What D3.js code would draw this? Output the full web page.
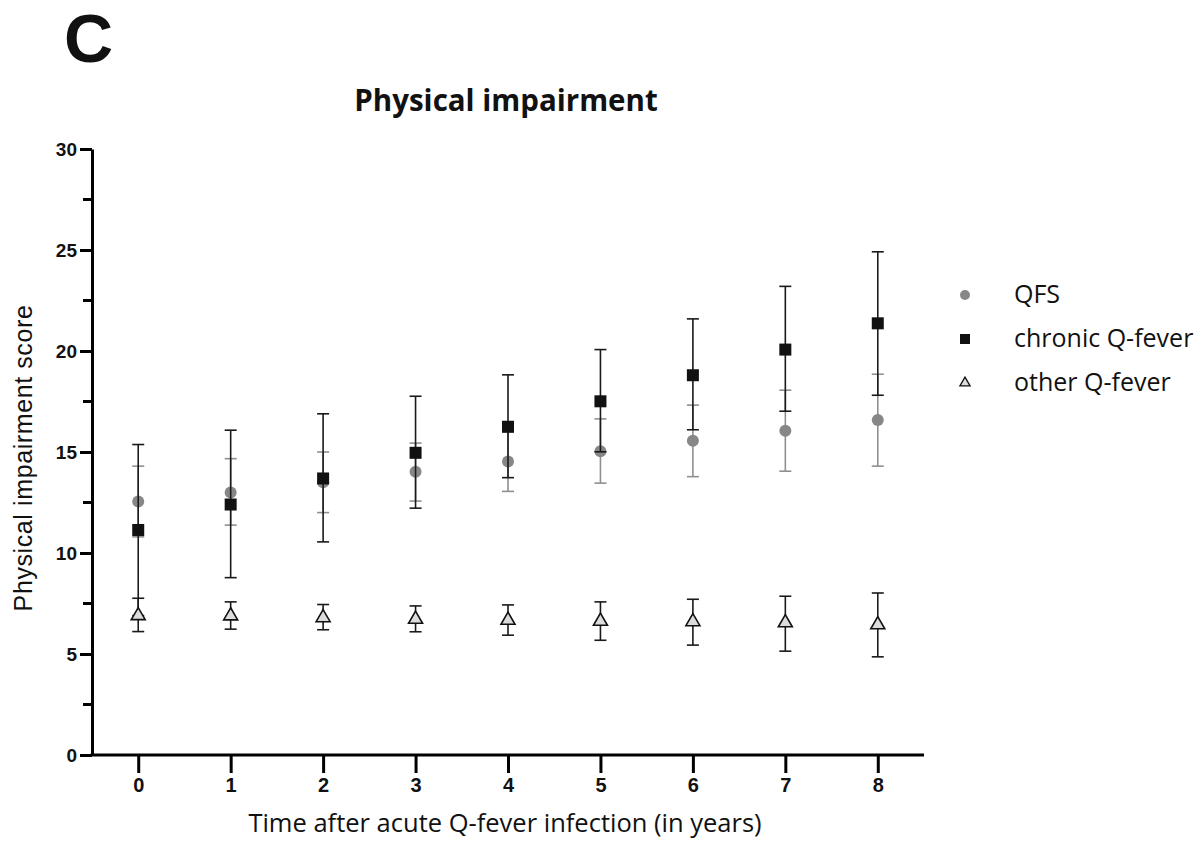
<!DOCTYPE html>
<html>
<head>
<meta charset="utf-8">
<script src="https://cdn.jsdelivr.net/npm/d3@7"></script>
<style>
  body { margin: 0; background: #fff; }
</style>
</head>
<body>
<svg width="1203" height="842"></svg>
<script>
const svg = d3.select('svg');

// years after acute infection
const years = [0, 1, 2, 3, 4, 5, 6, 7, 8];

// QFS
const qfsMean  = [12.55, 13.0, 13.5, 14.02, 14.53, 15.04, 15.56, 16.05, 16.58];
const qfsLow   = [10.8, 11.38, 12.0, 12.57, 13.05, 13.46, 13.78, 14.05, 14.3];
const qfsHigh  = [14.3, 14.67, 15.0, 15.44, 16.0, 16.64, 17.32, 18.06, 18.85];

// chronic Q-fever
const chrMean  = [11.14, 12.4, 13.69, 14.96, 16.25, 17.51, 18.8, 20.07, 21.37];
const chrLow   = [6.9, 8.78, 10.55, 12.22, 13.73, 15.01, 16.1, 17.02, 17.81];
const chrHigh  = [15.37, 16.08, 16.89, 17.76, 18.82, 20.07, 21.59, 23.2, 24.91];

// other Q-fever
const othMean  = [6.9, 6.89, 6.8, 6.72, 6.67, 6.62, 6.6, 6.55, 6.45];
const othLow   = [6.11, 6.23, 6.2, 6.1, 5.93, 5.68, 5.44, 5.14, 4.86];
const othHigh  = [7.76, 7.58, 7.45, 7.38, 7.43, 7.58, 7.71, 7.86, 8.02];

const yTicks = [0, 5, 10, 15, 20, 25, 30];
const yMinor = [2.5, 7.5, 12.5, 17.5, 22.5, 27.5];

const x = d3.scaleLinear().domain([-0.5, 8.5]).range([92, 924]);
const y = d3.scaleLinear().domain([0, 30]).range([755, 149]);

// panel letter + title
svg.append('text').attr('x', 64).attr('y', 62)
    .style('font-family', '"Liberation Sans", Arial, sans-serif')
    .style('font-weight', 'bold').style('font-size', '68px').attr('fill', '#111')
    .text('C');

svg.append('text').attr('x', 506).attr('y', 111).attr('text-anchor', 'middle')
    .style('font-family', '"Open Sans", sans-serif').style('font-weight', 'bold')
    .style('font-size', '29.5px').attr('fill', '#111')
    .text('Physical impairment');

// axes
const yAxis = svg.append('g')
    .attr('transform', 'translate(92,0)')
    .call(d3.axisLeft(y).tickValues(yTicks).tickSize(12).tickPadding(3).tickSizeOuter(0));
yAxis.select('.domain').attr('stroke-width', 3);
yAxis.selectAll('.tick line').attr('stroke-width', 3);
yAxis.selectAll('.tick text')
    .style('font-family', '"Liberation Sans Narrow", "Liberation Sans", Arial, sans-serif')
    .style('font-weight', 'bold').style('font-size', '19px').attr('fill', '#111');

svg.append('g').selectAll('line').data(yMinor).enter().append('line')
    .attr('x1', 83).attr('x2', 92)
    .attr('y1', d => y(d)).attr('y2', d => y(d))
    .attr('stroke', '#000').attr('stroke-width', 3);

const xAxis = svg.append('g')
    .attr('transform', 'translate(0,755)')
    .call(d3.axisBottom(x).tickValues(years).tickSize(18).tickPadding(5).tickSizeOuter(0));
xAxis.select('.domain').attr('stroke-width', 3).attr('d', 'M90.5,0H924');
xAxis.selectAll('.tick line').attr('stroke-width', 3);
xAxis.selectAll('.tick text')
    .style('font-family', '"Liberation Sans Narrow", "Liberation Sans", Arial, sans-serif')
    .style('font-weight', 'bold').style('font-size', '20px').attr('fill', '#111');

// axis labels
svg.append('text')
    .attr('transform', 'translate(32,458) rotate(-90)')
    .attr('text-anchor', 'middle')
    .style('font-family', '"Liberation Sans", Arial, sans-serif').style('font-size', '25px')
    .style('letter-spacing', '0.6px')
    .attr('fill', '#111')
    .text('Physical impairment score');

svg.append('text').attr('x', 505).attr('y', 832).attr('text-anchor', 'middle')
    .style('font-family', '"Open Sans", sans-serif').style('font-size', '25.5px').attr('fill', '#111')
    .text('Time after acute Q-fever infection (in years)');

// error bars
function errorBars(low, high, color) {
    const g = svg.append('g').attr('stroke', color).attr('stroke-width', 1.6);
    years.forEach((d, i) => {
        g.append('line').attr('x1', x(d)).attr('x2', x(d)).attr('y1', y(low[i])).attr('y2', y(high[i]));
        g.append('line').attr('x1', x(d) - 6).attr('x2', x(d) + 6).attr('y1', y(low[i])).attr('y2', y(low[i]));
        g.append('line').attr('x1', x(d) - 6).attr('x2', x(d) + 6).attr('y1', y(high[i])).attr('y2', y(high[i]));
    });
}

errorBars(qfsLow, qfsHigh, '#8f8f8f');
svg.append('g').selectAll('circle').data(years).enter().append('circle')
    .attr('cx', d => x(d)).attr('cy', (d, i) => y(qfsMean[i])).attr('r', 6)
    .attr('fill', '#878787');

errorBars(chrLow, chrHigh, '#1a1a1a');
svg.append('g').selectAll('rect').data(years).enter().append('rect')
    .attr('x', d => x(d) - 6).attr('y', (d, i) => y(chrMean[i]) - 6)
    .attr('width', 12).attr('height', 12).attr('fill', '#111');

errorBars(othLow, othHigh, '#1a1a1a');
const tri = d3.symbol().type(d3.symbolTriangle).size(85);
svg.append('g').selectAll('path').data(years).enter().append('path')
    .attr('transform', (d, i) => `translate(${x(d)},${y(othMean[i])})`)
    .attr('d', tri).attr('fill', '#dcdcdc').attr('stroke', '#111').attr('stroke-width', 1.6);

// legend
const legendNames = ['QFS', 'chronic Q-fever', 'other Q-fever'];
const lg = svg.append('g');
legendNames.forEach((n, i) => {
    const ly = 295 + i * 44;
    if (i === 0) lg.append('circle').attr('cx', 965).attr('cy', ly).attr('r', 5).attr('fill', '#878787');
    if (i === 1) lg.append('rect').attr('x', 960).attr('y', ly - 5).attr('width', 10).attr('height', 10).attr('fill', '#111');
    if (i === 2) lg.append('path').attr('transform', `translate(965,${ly})`)
        .attr('d', d3.symbol().type(d3.symbolTriangle).size(45))
        .attr('fill', '#dcdcdc').attr('stroke', '#111').attr('stroke-width', 1.3);
    lg.append('text').attr('x', 1014).attr('y', ly + 8)
        .style('font-family', '"Open Sans", sans-serif').style('font-size', '25px').attr('fill', '#111')
        .text(n);
});
</script>
</body>
</html>
